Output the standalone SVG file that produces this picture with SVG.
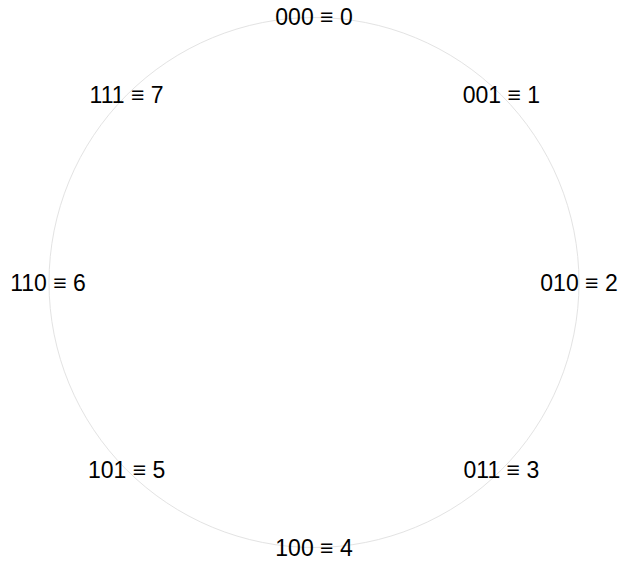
<svg xmlns="http://www.w3.org/2000/svg" width="622" height="561" viewBox="0 0 622 561">
<style>
.lbl{font-family:"Liberation Sans",Arial,sans-serif;font-size:23px;fill:#000;text-anchor:middle;dominant-baseline:central}
</style>
<rect width="622" height="561" fill="#fff"/>
<g id="connectors">
<circle cx="314" cy="282.5" r="265" fill="none" stroke="#e3e3e3" stroke-width="1"/>
</g>
<g id="n0"><text class="lbl" x="314" y="17">000 ≡ 0</text></g>
<g id="n1"><text class="lbl" x="501.4" y="95">001 ≡ 1</text></g>
<g id="n2"><text class="lbl" x="579" y="282.5">010 ≡ 2</text></g>
<g id="n3"><text class="lbl" x="501.4" y="470">011 ≡ 3</text></g>
<g id="n4"><text class="lbl" x="314" y="547.5">100 ≡ 4</text></g>
<g id="n5"><text class="lbl" x="126.6" y="470">101 ≡ 5</text></g>
<g id="n6"><text class="lbl" x="48" y="282.5">110 ≡ 6</text></g>
<g id="n7"><text class="lbl" x="126.6" y="95">111 ≡ 7</text></g>
</svg>
